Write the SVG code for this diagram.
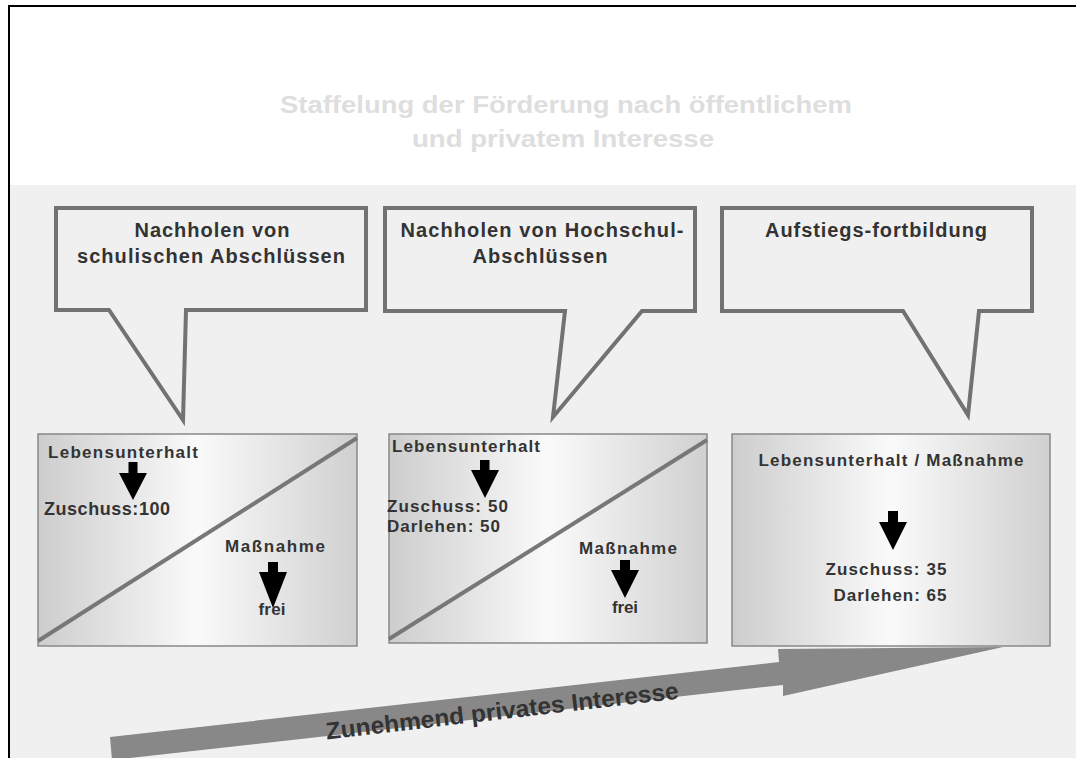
<svg xmlns="http://www.w3.org/2000/svg" width="1076" height="758" viewBox="0 0 1076 758">
<style>
text{font-family:"Liberation Sans",Arial,sans-serif;font-weight:bold;fill:#333}
.title{font-size:24px;fill:#dedede}
.co{font-size:20px}
.bx{font-size:17px}
.callout{fill:#f0f0f0;stroke:#727272;stroke-width:4}
.box{fill:url(#g);stroke:#888;stroke-width:1.5}
.diag{stroke:#777;stroke-width:4}
.dn{fill:#000}
</style>
<defs>
<linearGradient id="g" x1="0" y1="0" x2="1" y2="0">
<stop offset="0" stop-color="#cdcdcd"/>
<stop offset="0.5" stop-color="#fafafa"/>
<stop offset="1" stop-color="#d0d0d0"/>
</linearGradient>
</defs>
<rect x="0" y="0" width="1076" height="758" fill="#fff"/>
<rect x="9" y="185" width="1067" height="573" fill="#f0f0f0"/>
<path d="M9,758 V6 H1076" fill="none" stroke="#000" stroke-width="2"/>
<g id="title">
<text class="title" x="566" y="113" text-anchor="middle" textLength="572" lengthAdjust="spacingAndGlyphs">Staffelung der Förderung nach öffentlichem</text>
<text class="title" x="563" y="147" text-anchor="middle" textLength="302" lengthAdjust="spacingAndGlyphs">und privatem Interesse</text>
</g>
<g id="callout1">
<path class="callout" d="M56,208 H366 V310 H186 L183,420 L109,310 H56 Z"/>
<text class="co" x="212" y="237" text-anchor="middle" textLength="155">Nachholen von</text>
<text class="co" x="211" y="263" text-anchor="middle" textLength="268">schulischen Abschlüssen</text>
</g>
<g id="callout2">
<path class="callout" d="M385,208 H695 V311 H642 L553,417 L565,311 H385 Z"/>
<text class="co" x="542" y="237" text-anchor="middle" textLength="283">Nachholen von Hochschul-</text>
<text class="co" x="540" y="263" text-anchor="middle" textLength="135">Abschlüssen</text>
</g>
<g id="callout3">
<path class="callout" d="M722,208 H1032 V311 H979 L968,415 L903,311 H722 Z"/>
<text class="co" x="876" y="237" text-anchor="middle" textLength="222">Aufstiegs-fortbildung</text>
</g>
<g id="box1">
<rect class="box" x="38" y="434" width="319" height="212"/>
<line class="diag" x1="38" y1="641" x2="357" y2="438"/>
<text class="bx" x="48" y="458" textLength="150">Lebensunterhalt</text>
<path class="dn" d="M128.5,462 H137.5 V473 H147 L133,500 L119,473 H128.5 Z"/>
<text class="bx" x="44" y="515" textLength="126" style="font-size:18px">Zuschuss:100</text>
<text class="bx" x="225" y="552" textLength="100">Maßnahme</text>
<path class="dn" d="M268,562 H278 V572 H287 L273,608 L259,572 H268 Z"/>
<text class="bx" x="272" y="615" text-anchor="middle" textLength="27">frei</text>
</g>
<g id="box2">
<rect class="box" x="389" y="434" width="318" height="209"/>
<line class="diag" x1="389" y1="639" x2="707" y2="440"/>
<text class="bx" x="392" y="452" textLength="148">Lebensunterhalt</text>
<path class="dn" d="M480,460 H489.5 V470 H499 L485,498 L471,470 H480 Z"/>
<text class="bx" x="387" y="512" textLength="121">Zuschuss: 50</text>
<text class="bx" x="387" y="532" textLength="113">Darlehen: 50</text>
<text class="bx" x="579" y="554" textLength="98">Maßnahme</text>
<path class="dn" d="M620,560 H630 V570 H639 L625,598 L611,570 H620 Z"/>
<text class="bx" x="625" y="613" text-anchor="middle" textLength="26">frei</text>
</g>
<g id="box3">
<rect class="box" x="732" y="434" width="318" height="212"/>
<text class="bx" x="891" y="466" text-anchor="middle" textLength="265">Lebensunterhalt / Maßnahme</text>
<path class="dn" d="M888,511 H898 V522 H907 L893,550 L879,522 H888 Z"/>
<text class="bx" x="886" y="575" text-anchor="middle" textLength="121">Zuschuss: 35</text>
<text class="bx" x="890" y="601" text-anchor="middle" textLength="113">Darlehen: 65</text>
</g>
<g id="connectors">
<path d="M110,737 L779,662 L778,649 L1003,647 L783,696 L783,685 L112,760 Z" fill="#888"/>
<text x="0" y="0" transform="translate(503,719) rotate(-6.6)" text-anchor="middle" textLength="355" lengthAdjust="spacingAndGlyphs" style="font-size:24px">Zunehmend privates Interesse</text>
</g>
</svg>
